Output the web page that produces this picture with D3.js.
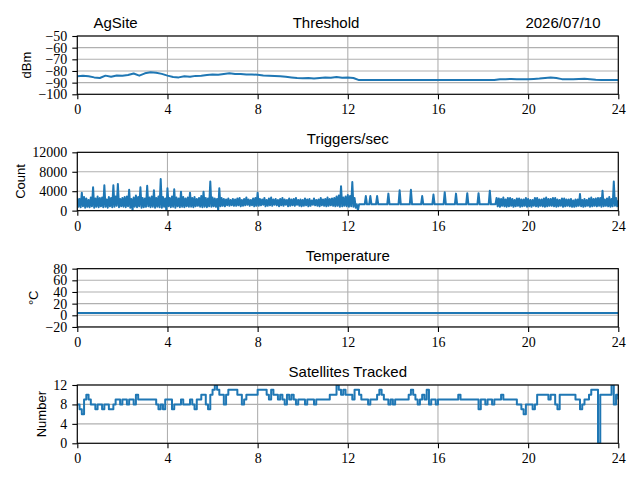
<!DOCTYPE html>
<html>
<head>
<meta charset="utf-8">
<script src="https://cdn.jsdelivr.net/npm/d3@7"></script>
<style>
  body { margin: 0; background: #fff; }
</style>
</head>
<body>
<svg id="chart" width="640" height="480"></svg>
<script>
// ---- data ----
const siteName = "AgSite";
const dateLabel = "2026/07/10";
const titles = ["Threshold", "Triggers/sec", "Temperature", "Satellites Tracked"];
const yLabels = ["dBm", "Count", "°C", "Number"];
const hourTicks = [0, 4, 8, 12, 16, 20, 24];

const thresholdTicks = [-100, -90, -80, -70, -60, -50];
const triggersTicks = [0, 4000, 8000, 12000];
const temperatureTicks = [-20, 0, 20, 40, 60, 80];
const satellitesTicks = [0, 4, 8, 12];

// threshold, one value every 0.25 h
const thresholdStep = 0.25;
const threshold = [
  -84.5, -84.0, -84.5, -85.5, -86.0, -84.0, -85.0, -83.8,
  -84.0, -83.5, -82.2, -84.0, -82.0, -81.0, -81.5, -82.5,
  -84.0, -85.2, -85.5, -84.5, -85.0, -84.2, -84.0, -83.5,
  -83.0, -83.2, -82.5, -82.0, -82.5, -82.5, -83.0, -83.0,
  -83.2, -83.8, -84.0, -84.2, -84.5, -85.0, -85.5, -86.0,
  -86.2, -86.0, -86.5, -86.0, -85.5, -85.8, -85.2, -85.8,
  -85.6, -86.0, -87.8,
  -87.8, -87.8, -87.8, -87.8, -87.8, -87.8, -87.8, -87.8,
  -87.8, -87.8, -87.8, -87.8, -87.8, -87.8, -87.8, -87.8,
  -87.8, -87.8, -87.8, -87.8, -87.8, -87.8, -87.8, -87.8,
  -87.0, -87.0, -86.9, -87.0, -87.0, -87.0, -86.8, -86.5,
  -86.0, -85.5, -86.0, -87.0, -87.0, -87.0, -86.8, -86.6,
  -87.0, -87.5, -87.8, -87.8, -87.8, -87.8
];

// triggers per second: max and min seen in each 0.1 h slot
const triggersStep = 0.1;
const triggersHigh = [
  2600, 2400, 3700, 2800, 2500, 2200, 2700, 4800, 2500, 2900,
  2600, 2700, 5200, 2300, 2800, 2600, 5200, 2900, 5500, 2400,
  2600, 2800, 2900, 4300, 2400, 2700, 3100, 2800, 4800, 2600,
  2500, 5100, 2700, 2900, 4200, 2600, 2900, 6500, 2800, 2500,
  4600, 2600, 2900, 4400, 2700, 2500, 3900, 2800, 2500, 2700,
  3700, 2600, 2800, 2400, 2600, 3000, 3900, 2600, 2500, 6000,
  2700, 2500, 2400, 4600, 2600, 2400, 2300, 2500, 2200, 2400,
  2300, 2500, 2600, 2200, 2400, 2700, 2300, 2200, 2500, 2600,
  3700, 2400, 2300, 2600, 2200, 2500, 2700, 2300, 2400, 2200,
  2400, 2600, 2300, 2200, 2500, 2300, 2400, 2600, 2200, 2300,
  2200, 2500, 2300, 2400, 2100, 2500, 2200, 2300, 2600, 2300,
  2400, 2700, 2400, 2500, 2600, 2900, 3100, 5000, 2700, 2900,
  3200, 3000, 5900, 2600, 1300, 1300, 1300, 1300, 3000, 1300,
  3000, 1300, 1300, 3000, 1300, 1300, 1300, 1300, 3500, 1300,
  1300, 1300, 1300, 4200, 1300, 1300, 1300, 1300, 4300, 1300,
  1300, 1300, 1300, 3000, 1300, 1300, 1300, 1300, 3300, 1300,
  1300, 1300, 1300, 3800, 1300, 1300, 1300, 1300, 3500, 1300,
  1300, 1300, 1300, 3600, 1300, 1300, 1300, 1300, 3600, 1300,
  1300, 1300, 1300, 4100, 1300, 1300, 2600, 2500, 2400, 2700,
  2300, 2600, 2600, 2400, 2200, 2500, 2500, 2300, 2300, 2600,
  2400, 2200, 2200, 2600, 2600, 2300, 2300, 2500, 2700, 2400,
  2400, 2600, 2600, 2300, 2200, 2500, 2500, 2300, 2300, 2400,
  2100, 2300, 2300, 3400, 2200, 2400, 2200, 2500, 2700, 2400,
  2500, 2600, 2600, 4100, 2300, 2500, 2800, 2400, 6000, 2600,
  2000
];
const triggersLow = [
  800, 700, 900, 600, 800, 700, 900, 600, 800, 700,
  900, 700, 800, 600, 900, 700, 800, 1000, 700, 900,
  800, 700, 900, 600, 0, 800, 700, 900, 600, 700,
  800, 900, 700, 800, 600, 800, 700, 600, 800, 0,
  900, 700, 800, 600, 900, 700, 800, 700, 900, 800,
  800, 700, 900, 1000, 800, 700, 800, 700, 900, 800,
  900, 800, 0, 900, 1000, 900, 1100, 1000, 1100, 1000,
  1000, 1100, 900, 1000, 1100, 1200, 1000, 1100, 900, 1000,
  1000, 1100, 1200, 900, 1000, 1100, 1000, 1200, 1100, 900,
  1100, 1000, 1200, 900, 1000, 1100, 1000, 1200, 1000, 900,
  1000, 1100, 900, 1000, 1200, 1100, 1000, 900, 1100, 1000,
  900, 1000, 1100, 1000, 900, 1000, 800, 900, 1000, 900,
  800, 900, 800, 600, 0, 1300, 1300, 1300, 1300, 1300,
  1300, 1300, 1300, 1300, 1300, 1300, 1300, 1300, 1300, 1300,
  1300, 1300, 1300, 1300, 1300, 1300, 1300, 1300, 1300, 1300,
  1300, 1300, 1300, 1300, 1300, 1300, 1300, 1300, 1300, 1300,
  1300, 1300, 1300, 1300, 1300, 1300, 1300, 1300, 1300, 1300,
  1300, 1300, 1300, 1300, 1300, 1300, 1300, 1300, 1300, 1300,
  1300, 1300, 1300, 1300, 1300, 1300, 900, 800, 1000, 900,
  800, 900, 1000, 800, 900, 1000, 800, 900, 1000, 800,
  900, 800, 1000, 900, 800, 1000, 900, 800, 900, 1000,
  1000, 900, 800, 900, 1000, 800, 900, 1000, 900, 800,
  800, 900, 1000, 900, 800, 900, 1000, 800, 900, 1000,
  900, 1000, 800, 900, 1000, 900, 800, 900, 1000, 900,
  1000
];

// temperature, hourly
const temperatureStep = 1;
const temperature = [
  4, 4, 4, 4, 4, 4, 4, 4, 4, 4, 4, 4,
  4, 4, 4, 4, 4, 4, 4, 4, 4, 4, 4, 4, 4
];

// satellites tracked, one value every 0.1 h
const satellitesStep = 0.1;
const satellites = [
  8, 7, 6, 9, 10, 9, 8, 8, 7, 8,
  8, 7, 8, 8, 7, 7, 8, 9, 9, 8,
  9, 9, 8, 9, 9, 8, 10, 9, 9, 9,
  9, 9, 9, 9, 9, 8, 7, 8, 7, 9,
  9, 9, 7, 8, 8, 8, 9, 8, 8, 8,
  9, 8, 7, 9, 9, 10, 10, 8, 7, 10,
  11, 12, 11, 10, 10, 8, 10, 11, 11, 11,
  11, 10, 10, 8, 9, 10, 10, 10, 10, 10,
  11, 11, 11, 11, 10, 9, 11, 10, 10, 9,
  10, 9, 8, 10, 9, 10, 9, 8, 9, 9,
  9, 8, 9, 9, 9, 8, 9, 9, 9, 9,
  9, 9, 10, 10, 10, 12, 11, 10, 11, 10,
  10, 10, 9, 11, 11, 10, 9, 9, 9, 8,
  9, 9, 9, 10, 11, 10, 9, 9, 8, 9,
  8, 9, 9, 9, 9, 9, 9, 10, 11, 10,
  9, 8, 9, 10, 9, 11, 8, 9, 9, 8,
  9, 9, 9, 9, 9, 9, 9, 9, 9, 10,
  9, 9, 9, 9, 9, 9, 9, 9, 7, 9,
  9, 8, 9, 9, 8, 9, 9, 9, 10, 9,
  9, 9, 9, 9, 9, 8, 8, 7, 6, 8,
  8, 8, 7, 8, 10, 10, 10, 10, 10, 9,
  10, 10, 8, 7, 10, 10, 10, 10, 10, 10,
  10, 9, 9, 7, 8, 9, 9, 10, 11, 11,
  11, 0, 10, 10, 10, 10, 10, 12, 8, 10,
  9
];

// ---- layout ----
const left = 77.3, right = 618.3;
const top0 = 36, panelH = 58.3, panelGap = 116.33;
const blue = "#1f77b4", gridColor = "#b0b0b0";
const serif = '"Liberation Serif", "DejaVu Serif", serif';
const sans = '"Liberation Sans", "DejaVu Sans", sans-serif';

// each series becomes a list of [hour, value] points
const points = {
  threshold: threshold.map((v, j) => [j * thresholdStep, v]),
  // min/max per slot, drawn as one zigzag so the dense trace looks filled
  triggers: triggersHigh.flatMap((v, j) => [[j * triggersStep, v], [j * triggersStep + triggersStep / 2, triggersLow[j]]]),
  temperature: temperature.map((v, j) => [j * temperatureStep, v]),
  satellites: satellites.map((v, j) => [j * satellitesStep, v])
};

const panels = [
  { pts: points.threshold, domain: [-100, -50], ticks: thresholdTicks, curve: d3.curveLinear, titleX: 326 },
  { pts: points.triggers, domain: [0, 12000], ticks: triggersTicks, curve: d3.curveLinear },
  { pts: points.temperature, domain: [-20, 80], ticks: temperatureTicks, curve: d3.curveLinear },
  { pts: points.satellites, domain: [0, 12], ticks: satellitesTicks, curve: d3.curveStepAfter }
];

const svg = d3.select("#chart");
svg.append("rect").attr("width", 640).attr("height", 480).attr("fill", "#fff");

const x = d3.scaleLinear().domain([0, 24]).range([left, right]);

panels.forEach(function(p, i) {
  const y0 = top0 + i * panelGap;
  const y = d3.scaleLinear().domain(p.domain).range([y0 + panelH, y0]);
  const g = svg.append("g");

  // grid
  g.append("g").selectAll("line").data(hourTicks).join("line")
    .attr("x1", d => x(d)).attr("x2", d => x(d))
    .attr("y1", y0).attr("y2", y0 + panelH)
    .attr("stroke", gridColor).attr("stroke-width", 1.1);
  g.append("g").selectAll("line").data(p.ticks).join("line")
    .attr("x1", left).attr("x2", right)
    .attr("y1", d => y(d)).attr("y2", d => y(d))
    .attr("stroke", gridColor).attr("stroke-width", 1.1);

  // data line
  const clipId = "clip" + i;
  g.append("clipPath").attr("id", clipId)
    .append("rect").attr("x", left).attr("y", y0).attr("width", right - left).attr("height", panelH);

  const line = d3.line()
    .x(d => x(d[0]))
    .y(d => y(d[1]))
    .curve(p.curve);

  g.append("path")
    .attr("clip-path", "url(#" + clipId + ")")
    .attr("d", line(p.pts))
    .attr("fill", "none")
    .attr("stroke", blue)
    .attr("stroke-width", 2)
    .attr("stroke-linejoin", "round");

  // spines
  g.append("rect")
    .attr("x", left).attr("y", y0).attr("width", right - left).attr("height", panelH)
    .attr("fill", "none").attr("stroke", "#000").attr("stroke-width", 1.1);

  // axes
  const xa = g.append("g")
    .attr("transform", "translate(0," + (y0 + panelH) + ")")
    .call(d3.axisBottom(x).tickValues(hourTicks).tickSize(5).tickPadding(5).tickFormat(d3.format("d")));
  const ya = g.append("g")
    .attr("transform", "translate(" + left + ",0)")
    .call(d3.axisLeft(y).tickValues(p.ticks).tickSize(5).tickPadding(5).tickFormat(d3.format("d")));

  [xa, ya].forEach(function(a) {
    a.select(".domain").remove();
    a.selectAll(".tick line").attr("stroke", "#000").attr("stroke-width", 1.1);
    a.selectAll(".tick text")
      .attr("fill", "#000")
      .style("font-family", serif)
      .style("font-size", "14px");
  });

  // title
  g.append("text")
    .attr("x", p.titleX || (left + right) / 2).attr("y", y0 - 8)
    .attr("text-anchor", "middle")
    .style("font-family", sans).style("font-size", "15px")
    .text(titles[i]);

  // y label, placed left of the widest tick label
  let minX = left;
  ya.selectAll(".tick text").each(function() {
    const b = this.getBBox();
    if (b.x + left < minX) minX = b.x + left;
  });
  g.append("text")
    .attr("transform", "translate(" + (minX - 7) + "," + (y0 + panelH / 2) + ") rotate(-90)")
    .attr("text-anchor", "middle")
    .style("font-family", sans).style("font-size", "13px")
    .text(yLabels[i]);
});

// header titles on the first panel
svg.append("text")
  .attr("x", 93.5).attr("y", top0 - 8)
  .style("font-family", sans).style("font-size", "15px")
  .text(siteName);
svg.append("text")
  .attr("x", 600.5).attr("y", top0 - 8)
  .attr("text-anchor", "end")
  .style("font-family", sans).style("font-size", "15px")
  .text(dateLabel);
</script>
</body>
</html>
